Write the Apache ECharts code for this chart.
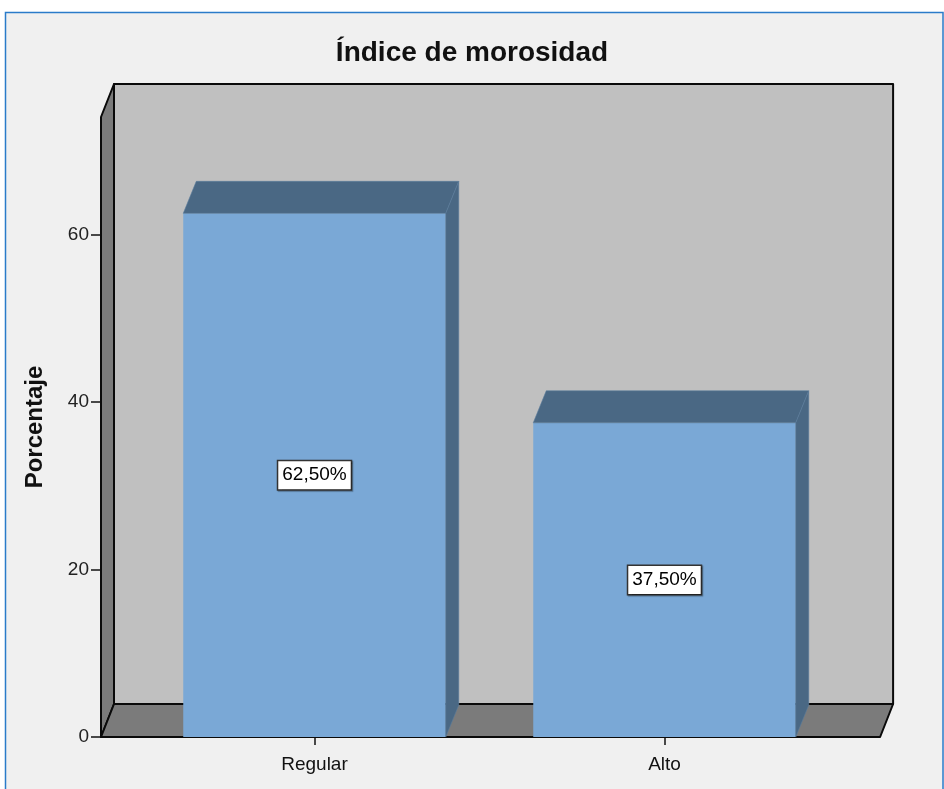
<!DOCTYPE html>
<html lang="es">
<head>
<meta charset="UTF-8">
<title>Índice de morosidad</title>
<script src="https://cdn.jsdelivr.net/npm/echarts@6.0.0/dist/echarts.min.js"></script>
<style>
  html, body { margin: 0; padding: 0; background: #fff; }
  #main { width: 944px; height: 789px; }
</style>
</head>
<body>
<div id="main"></div>
<script>
// datos
var categorias = ['Regular', 'Alto'];
var porcentajes = [62.5, 37.5];
var ticksY = [0, 20, 40, 60];
var maxY = 74;

var chart = echarts.init(document.getElementById('main'));

// profundidad 3D (px)
var paredDx = 13, paredDy = -33;
var barraDx = 13, barraDy = -32;
var anchoBarra = 0.75;

function etiqueta(v) {
  return v.toFixed(2).replace('.', ',') + '%';
}

// paredes y suelo
function dibujarParedes(params, api) {
  var cs = params.coordSys;
  var bw = api.size([1, 0])[0];
  var x0 = cs.x - bw * 0.11;
  var x1 = cs.x + cs.width + bw * 0.116;
  var yb = cs.y + cs.height;
  var yt = cs.y;
  var borde = { stroke: '#0a0a0a', lineWidth: 2, lineJoin: 'round' };
  return {
    type: 'group',
    children: [
      { type: 'rect', shape: { x: x0 + paredDx, y: yt + paredDy, width: x1 - x0, height: yb - yt },
        style: Object.assign({ fill: '#c0c0c0' }, borde) },
      { type: 'polygon', shape: { points: [[x0, yt], [x0 + paredDx, yt + paredDy], [x0 + paredDx, yb + paredDy], [x0, yb]] },
        style: Object.assign({ fill: '#7b7b7b' }, borde) },
      { type: 'polygon', shape: { points: [[x0, yb], [x1, yb], [x1 + paredDx, yb + paredDy], [x0 + paredDx, yb + paredDy]] },
        style: Object.assign({ fill: '#7b7b7b' }, borde) }
    ]
  };
}

// caras superior y lateral de cada barra
function dibujarCaras(params, api) {
  var idx = api.value(0);
  var v = api.value(1);
  var top = api.coord([idx, v]);
  var base = api.coord([idx, 0]);
  var bw = api.size([1, 0])[0] * anchoBarra;
  var l = top[0] - bw / 2, r = top[0] + bw / 2;
  var estilo = { fill: '#4a6884', stroke: '#5a7c9c', lineWidth: 0.6 };
  return {
    type: 'group',
    children: [
      { type: 'polygon', shape: { points: [[l, top[1]], [r, top[1]], [r + barraDx, top[1] + barraDy], [l + barraDx, top[1] + barraDy]] }, style: estilo },
      { type: 'polygon', shape: { points: [[r, top[1]], [r + barraDx, top[1] + barraDy], [r + barraDx, base[1] + barraDy], [r, base[1]]] }, style: estilo }
    ]
  };
}

var option = {
  backgroundColor: '#f0f0f0',
  animation: false,
  textStyle: { fontFamily: 'Arial, "Liberation Sans", sans-serif' },
  graphic: [
    { type: 'rect', shape: { x: 0, y: 0, width: 944, height: 12 }, style: { fill: '#fff' } },
    { type: 'rect', shape: { x: 0, y: 0, width: 5, height: 789 }, style: { fill: '#fff' } },
    { type: 'polyline', shape: { points: [[5.5, 789], [5.5, 12.5], [943, 12.5], [943, 789]] },
      style: { stroke: '#2a7bc9', lineWidth: 1.5, fill: null } }
  ],
  title: {
    text: 'Índice de morosidad',
    left: 'center',
    top: 34,
    textStyle: { fontSize: 28, fontWeight: 'bold', color: '#111' }
  },
  grid: { left: 139.5, right: 104.5, top: 117, bottom: 52 },
  xAxis: {
    type: 'category',
    data: categorias,
    axisLine: { show: false },
    axisTick: { show: true, alignWithLabel: true, length: 8, lineStyle: { color: '#111', width: 1.5 } },
    axisLabel: { fontSize: 19, color: '#111', margin: 18 },
    splitLine: { show: false }
  },
  yAxis: {
    type: 'value',
    min: 0,
    max: maxY,
    offset: 38.5,
    name: 'Porcentaje',
    nameLocation: 'middle',
    nameGap: 54,
    nameTextStyle: { fontSize: 24, fontWeight: 'bold', color: '#111' },
    axisLine: { show: false },
    axisTick: { show: true, length: 10, customValues: ticksY, lineStyle: { color: '#111', width: 1.5 } },
    axisLabel: { fontSize: 19, color: '#222', margin: 12, customValues: ticksY },
    splitLine: { show: false }
  },
  series: [
    {
      type: 'custom',
      renderItem: dibujarParedes,
      data: [[0, 0]],
      clip: false,
      silent: true,
      z: 1
    },
    {
      type: 'bar',
      data: porcentajes,
      barWidth: (anchoBarra * 100) + '%',
      itemStyle: { color: '#7aa8d6' },
      z: 2,
      label: {
        show: true,
        position: 'inside',
        formatter: function (p) { return etiqueta(p.value); },
        fontSize: 19,
        color: '#000',
        backgroundColor: '#fff',
        borderColor: '#333',
        borderWidth: 1.5,
        padding: [5, 4, 4, 4],
        shadowColor: 'rgba(0,0,0,0.35)',
        shadowOffsetX: 1,
        shadowOffsetY: 1,
        shadowBlur: 1
      }
    },
    {
      type: 'custom',
      renderItem: dibujarCaras,
      data: porcentajes.map(function (v, i) { return [i, v]; }),
      clip: false,
      silent: true,
      z: 3
    }
  ]
};

chart.setOption(option);
</script>
</body>
</html>
